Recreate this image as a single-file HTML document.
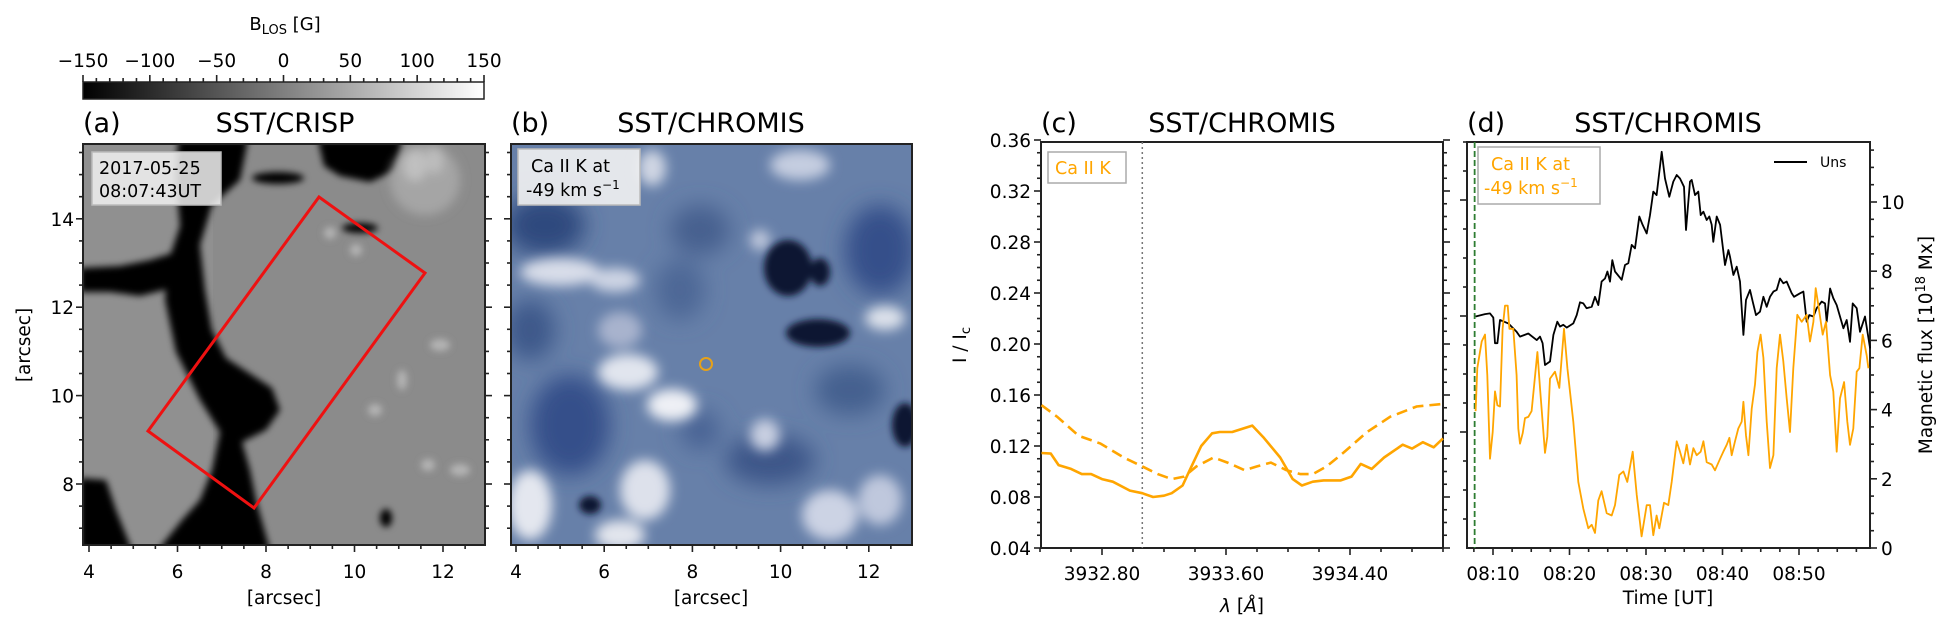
<!DOCTYPE html>
<html><head><meta charset="utf-8">
<style>
html,body{margin:0;padding:0;background:#fff;}
svg{display:block;font-family:"DejaVu Sans","Liberation Sans",sans-serif;}
</style></head>
<body>
<svg id="fig" xmlns="http://www.w3.org/2000/svg" width="1957" height="631" viewBox="0 0 1957 631">
<defs>
 <filter id="blurA" x="-20%" y="-20%" width="140%" height="140%"><feGaussianBlur stdDeviation="3.5"/></filter>
 <filter id="blurA2" x="-50%" y="-50%" width="200%" height="200%"><feGaussianBlur stdDeviation="5"/></filter>
 <filter id="blurB" x="-50%" y="-50%" width="200%" height="200%"><feGaussianBlur stdDeviation="11"/></filter>
 <filter id="blurB2" x="-50%" y="-50%" width="200%" height="200%"><feGaussianBlur stdDeviation="6"/></filter>
 <clipPath id="clipA"><rect x="83" y="144" width="402" height="401"/></clipPath>
 <clipPath id="clipB"><rect x="511" y="144" width="401" height="401"/></clipPath>
 <linearGradient id="cbGrad" x1="0" x2="1" y1="0" y2="0"><stop offset="0" stop-color="#000"/><stop offset="1" stop-color="#fff"/></linearGradient>
</defs>

<!-- colorbar -->
<g>
 <rect x="83" y="82" width="401" height="17" fill="url(#cbGrad)" stroke="#222" stroke-width="1.5"/>
 <text x="285" y="30" font-size="18" text-anchor="middle">B<tspan font-size="13" dy="4">LOS</tspan><tspan dy="-4"> [G]</tspan></text>
</g>

<!-- panel a image -->
<g clip-path="url(#clipA)">
 <rect x="83" y="144" width="402" height="401" fill="#8b8b8b"/>
 <rect x="83" y="144" width="130" height="401" fill="#909090"/>
 <g filter="url(#blurA)" fill="#060606">
  <polygon points="178,140 248,140 240,180 212,205 200,245 205,290 212,330 226,358 272,388 280,410 266,430 242,442 250,470 256,500 270,550 158,550 182,520 200,500 212,470 220,432 200,400 176,352 165,300 168,262 180,226 176,180"/>
  <polygon points="80,268 120,266 150,260 176,252 180,286 140,296 110,292 80,292"/>
  <polygon points="80,478 106,480 116,510 132,550 80,550"/>
  <polygon points="318,140 402,140 396,170 370,182 340,176 324,166"/>
  <ellipse cx="278" cy="178" rx="26" ry="6"/>
  <ellipse cx="386" cy="518" rx="6" ry="9"/>
  <ellipse cx="360" cy="228" rx="18" ry="5"/>
 </g>
 <g filter="url(#blurA2)">
  <ellipse cx="425" cy="180" rx="35" ry="35" fill="#a5a5a5"/>
  <ellipse cx="415" cy="165" rx="12" ry="16" fill="#c0c0c0"/>
  <ellipse cx="435" cy="160" rx="8" ry="14" fill="#bdbdbd"/>
 </g>
 <g filter="url(#blurA)" fill="#b4b4b4">
  <ellipse cx="330" cy="233" rx="6" ry="6"/>
  <ellipse cx="356" cy="250" rx="6" ry="6"/>
  <ellipse cx="440" cy="345" rx="10" ry="6"/>
  <ellipse cx="402" cy="380" rx="5" ry="10"/>
  <ellipse cx="375" cy="410" rx="7" ry="6"/>
  <ellipse cx="428" cy="465" rx="7" ry="6"/>
  <ellipse cx="460" cy="470" rx="10" ry="6"/>
 </g>
</g>
<rect x="83" y="144" width="402" height="401" fill="none" stroke="#222" stroke-width="2"/>
<polygon points="319,197 425,273 254,508 148,431" fill="none" stroke="#ee1111" stroke-width="3"/>
<g>
 <rect x="92" y="152" width="129" height="53" fill="#f2f2f2" fill-opacity="0.85" stroke="#bbb" stroke-width="1.5"/>
 <text x="99" y="174" font-size="17.5">2017-05-25</text>
 <text x="99" y="197" font-size="17.5">08:07:43UT</text>
</g>

<!-- panel b image -->
<g clip-path="url(#clipB)">
 <rect x="511" y="144" width="401" height="401" fill="#6780a9"/>
 <g filter="url(#blurB)">
  <ellipse cx="545" cy="225" rx="40" ry="30" fill="#2f4a7e"/>
  <ellipse cx="570" cy="425" rx="40" ry="50" fill="#35508a"/>
  <ellipse cx="880" cy="250" rx="35" ry="45" fill="#34508a"/>
  <ellipse cx="700" cy="230" rx="30" ry="25" fill="#46608f"/>
  <ellipse cx="770" cy="460" rx="45" ry="25" fill="#3c5789"/>
  <ellipse cx="680" cy="290" rx="25" ry="30" fill="#4d6796"/>
  <ellipse cx="850" cy="390" rx="35" ry="25" fill="#45608f"/>
  <ellipse cx="530" cy="330" rx="25" ry="30" fill="#3d588a"/>
  <ellipse cx="700" cy="430" rx="20" ry="20" fill="#4a6494"/>
 </g>
 <g filter="url(#blurB2)">
  <ellipse cx="560" cy="272" rx="40" ry="14" fill="#d8dde9"/>
  <ellipse cx="615" cy="280" rx="25" ry="12" fill="#cdd4e4"/>
  <ellipse cx="628" cy="372" rx="30" ry="18" fill="#e1e5ee"/>
  <ellipse cx="672" cy="405" rx="25" ry="16" fill="#eef0f5"/>
  <ellipse cx="530" cy="505" rx="22" ry="35" fill="#e4e7ef"/>
  <ellipse cx="645" cy="490" rx="25" ry="30" fill="#dde1eb"/>
  <ellipse cx="620" cy="535" rx="25" ry="15" fill="#e2e5ed"/>
  <ellipse cx="652" cy="168" rx="14" ry="18" fill="#cfd5e3"/>
  <ellipse cx="800" cy="165" rx="30" ry="15" fill="#c5cde0"/>
  <ellipse cx="885" cy="318" rx="20" ry="12" fill="#dde2eb"/>
  <ellipse cx="765" cy="435" rx="15" ry="16" fill="#c8cfe1"/>
  <ellipse cx="830" cy="515" rx="28" ry="25" fill="#ccd3e4"/>
  <ellipse cx="880" cy="500" rx="22" ry="25" fill="#bfc8dd"/>
  <ellipse cx="620" cy="330" rx="22" ry="18" fill="#a8b3cd"/>
  <ellipse cx="760" cy="240" rx="10" ry="10" fill="#c3cbde"/>
 </g>
 <g filter="url(#blurA)" fill="#0a1330">
  <ellipse cx="788" cy="268" rx="24" ry="28"/>
  <ellipse cx="818" cy="333" rx="32" ry="14"/>
  <ellipse cx="905" cy="425" rx="13" ry="22"/>
  <ellipse cx="590" cy="505" rx="11" ry="9"/>
  <ellipse cx="820" cy="272" rx="10" ry="14"/>
 </g>
</g>
<rect x="511" y="144" width="401" height="401" fill="none" stroke="#222" stroke-width="2"/>
<circle cx="706" cy="364" r="6" fill="none" stroke="#e6a11a" stroke-width="2"/>
<g>
 <rect x="518" y="149" width="122" height="56" fill="#f2f2f2" fill-opacity="0.9" stroke="#bbb" stroke-width="1.5"/>
 <text x="531" y="172" font-size="17.5">Ca II K at</text>
 <text x="526" y="196" font-size="17.5">-49 km s<tspan font-size="12" dy="-7">−1</tspan></text>
</g>

<!-- panel c -->
<rect x="1041" y="142" width="402" height="406" fill="none" stroke="#222" stroke-width="2"/>
<g>
 <rect x="1048" y="152" width="78" height="31" fill="#fff" stroke="#aaa" stroke-width="1.5"/>
 <text x="1055" y="174" font-size="17.5" fill="#ffa500">Ca II K</text>
</g>
<g id="cSeries"></g>

<!-- panel d -->
<rect x="1467" y="142" width="403" height="406" fill="none" stroke="#222" stroke-width="2"/>
<g id="dSeries"></g>
<g>
 <rect x="1478" y="147" width="122" height="57" fill="#fff" stroke="#aaa" stroke-width="1.5"/>
 <text x="1491" y="170" font-size="17.5" fill="#ffa500">Ca II K at</text>
 <text x="1484" y="194" font-size="17.5" fill="#ffa500">-49 km s<tspan font-size="12" dy="-7">−1</tspan></text>
</g>
<g>
 <line x1="1774" y1="162" x2="1807" y2="162" stroke="#000" stroke-width="2"/>
 <text x="1820" y="167" font-size="14">Uns</text>
</g>

<!-- titles -->
<text x="83" y="132" font-size="27">(a)</text>
<text x="285" y="132" font-size="27" text-anchor="middle">SST/CRISP</text>
<text x="511" y="132" font-size="27">(b)</text>
<text x="711" y="132" font-size="27" text-anchor="middle">SST/CHROMIS</text>
<text x="1041" y="132" font-size="27">(c)</text>
<text x="1242" y="132" font-size="27" text-anchor="middle">SST/CHROMIS</text>
<text x="1467" y="132" font-size="27">(d)</text>
<text x="1668" y="132" font-size="27" text-anchor="middle">SST/CHROMIS</text>

<!-- axis labels -->
<text x="284" y="604" font-size="18.5" text-anchor="middle">[arcsec]</text>
<text x="711" y="604" font-size="18.5" text-anchor="middle">[arcsec]</text>
<text transform="translate(30,345) rotate(-90)" font-size="18.5" text-anchor="middle">[arcsec]</text>
<text x="1242" y="612" font-size="18.5" text-anchor="middle"><tspan font-style="italic">λ</tspan> [<tspan font-style="italic">Å</tspan>]</text>
<text transform="translate(966,345) rotate(-90)" font-size="18.5" text-anchor="middle">I / I<tspan font-size="13" dy="4">c</tspan></text>
<text x="1668" y="604" font-size="18.5" text-anchor="middle">Time [UT]</text>
<text transform="translate(1932,345) rotate(-90)" font-size="18.5" text-anchor="middle">Magnetic flux [10<tspan font-size="13" dy="-7">18</tspan><tspan dy="7"> Mx]</tspan></text>

<g id="ticks"></g>
</svg>

<script>
// ---- panel (c) spectral profiles ----
const specWaveSolid = [3932.41,3932.47,3932.52,3932.60,3932.67,3932.73,3932.80,3932.87,3932.98,3933.06,3933.13,3933.20,3933.25,3933.32,3933.37,3933.44,3933.51,3933.56,3933.64,3933.77,3933.84,3933.95,3934.03,3934.09,3934.16,3934.23,3934.34,3934.41,3934.47,3934.54,3934.62,3934.74,3934.80,3934.87,3934.94,3935.00];
const specSolid = [0.1145,0.114,0.105,0.102,0.098,0.098,0.094,0.092,0.085,0.083,0.080,0.081,0.083,0.089,0.102,0.120,0.130,0.131,0.131,0.136,0.127,0.111,0.094,0.089,0.092,0.093,0.093,0.096,0.106,0.102,0.111,0.121,0.118,0.123,0.119,0.126];
const specWaveDashed = [3932.41,3932.51,3932.65,3932.79,3932.94,3933.06,3933.16,3933.25,3933.33,3933.41,3933.52,3933.61,3933.72,3933.80,3933.89,3933.99,3934.08,3934.16,3934.25,3934.36,3934.51,3934.66,3934.83,3935.00];
const specDashed = [0.152,0.143,0.128,0.122,0.111,0.104,0.098,0.094,0.096,0.104,0.111,0.107,0.101,0.104,0.107,0.101,0.098,0.098,0.104,0.115,0.131,0.143,0.151,0.153];
const specMarkWave = 3933.06;
const cYTicks = [0.04,0.08,0.12,0.16,0.20,0.24,0.28,0.32,0.36];
const cXTicks = [3932.80,3933.60,3934.40];

// ---- panel (d) time series (minutes after 08:00) ----
const timeUns = [7.73,8.95,9.61,10.04,10.26,10.57,10.92,12.00,13.09,13.53,14.62,15.71,16.14,16.49,16.80,17.45,17.89,18.41,18.76,19.19,19.63,20.50,20.94,21.37,21.81,22.24,22.90,23.33,23.77,24.20,24.64,24.95,25.29,25.60,25.95,26.82,27.26,27.69,28.13,28.56,29.13,29.56,30.09,30.52,30.96,31.39,32.05,32.48,33.05,33.57,34.01,34.45,34.97,35.23,35.75,35.97,36.41,36.84,37.15,37.50,37.93,38.28,38.59,38.80,39.24,39.68,40.33,40.77,40.98,41.42,41.85,42.29,42.73,43.07,43.60,43.95,44.38,44.90,45.34,45.78,46.21,46.65,47.08,47.52,47.95,48.39,49.04,49.35,50.13,50.57,51.00,51.35,51.88,52.31,52.97,53.40,53.62,54.06,54.49,54.93,55.80,56.23,56.67,57.02,57.54,57.98,58.63,59.29];
const fluxUns = [6.69,6.76,6.78,6.66,5.92,5.92,6.59,6.49,6.25,6.11,6.20,6.01,6.11,5.92,5.29,5.39,6.16,6.54,6.40,6.45,6.37,6.49,6.73,7.10,7.07,6.93,6.97,7.26,7.02,7.70,7.79,7.99,7.70,8.32,7.99,7.75,8.18,8.23,8.76,8.66,9.58,9.34,9.09,9.62,10.30,10.20,11.45,10.68,10.15,10.59,10.78,10.68,10.44,9.19,10.59,10.64,10.20,10.30,9.62,9.72,9.48,9.58,9.34,8.85,9.58,9.34,8.18,8.61,8.42,7.89,8.13,7.70,6.16,7.17,7.46,7.12,6.73,6.83,7.26,6.97,7.26,7.41,7.46,7.79,7.65,7.70,7.36,7.26,7.36,7.41,6.54,6.73,6.69,6.93,7.12,7.07,6.54,7.50,7.22,7.02,6.35,6.59,5.96,7.07,6.93,6.25,6.69,5.77];
const timeCa = [7.73,7.95,8.52,8.95,9.26,9.61,9.96,10.26,10.57,10.92,11.26,11.57,11.92,12.14,12.66,13.09,13.31,13.53,13.88,14.18,14.62,15.05,15.80,16.14,16.49,16.80,17.10,17.45,18.10,18.67,19.28,19.72,20.50,21.15,21.81,22.46,22.90,23.33,23.77,24.20,24.86,25.51,25.95,26.51,27.04,27.56,28.26,28.78,29.43,30.09,30.52,30.96,31.39,31.74,32.35,32.92,33.36,34.01,34.45,34.88,35.32,35.75,36.19,36.63,37.15,37.50,37.93,38.59,39.02,39.68,40.11,40.55,40.90,41.20,41.64,42.07,42.51,42.73,43.07,43.38,43.82,44.25,44.56,44.98,45.34,45.78,46.21,46.65,47.08,47.52,47.95,48.39,48.82,49.26,49.78,50.35,51.00,51.44,51.88,52.18,52.53,53.10,53.53,54.06,54.49,54.93,55.36,55.89,56.32,56.67,57.10,57.54,57.89,58.33,58.85,59.07];
const intensityCa = [1.18,1.55,1.78,1.84,1.49,0.77,1.00,1.35,1.23,1.22,1.89,2.09,2.09,1.89,1.89,1.49,1.03,0.90,0.99,1.12,1.13,1.18,1.69,1.38,1.09,0.82,0.96,1.46,1.52,1.38,1.89,1.55,1.09,0.57,0.34,0.17,0.20,0.13,0.41,0.49,0.30,0.28,0.37,0.63,0.66,0.57,0.83,0.46,0.10,0.37,0.37,0.11,0.28,0.17,0.39,0.37,0.57,0.92,0.83,0.73,0.89,0.72,0.86,0.80,0.83,0.92,0.74,0.72,0.67,0.77,0.83,0.89,0.95,0.80,0.92,1.03,1.09,1.26,0.97,0.80,1.20,1.41,1.69,1.84,1.64,1.09,0.69,0.80,1.55,1.84,1.61,1.29,1.00,1.55,2.01,1.95,2.01,1.78,1.95,2.24,2.09,1.84,1.95,1.49,1.35,0.83,1.29,1.43,1.09,0.89,1.03,1.52,1.55,1.84,1.66,1.55];
const markTime = 7.6;
const dTimeTicks = [10,20,30,40,50];
const dTimeLabels = ["08:10","08:20","08:30","08:40","08:50"];
const dFluxTicks = [0,2,4,6,8,10];
const cbTicks = [-150,-100,-50,0,50,100,150];
const arcXTicks = [4,6,8,10,12];
const arcYTicks = [8,10,12,14];

const NS = 'http://www.w3.org/2000/svg';
const fig = document.getElementById('fig');
const tickG = document.getElementById('ticks');
function mk(tag, attrs, parent) {
  const e = document.createElementNS(NS, tag);
  for (const k in attrs) e.setAttribute(k, attrs[k]);
  (parent || fig).appendChild(e);
  return e;
}
// scales
const cX = w => 1102 + (w - 3932.80) * 155;
const cY = v => 548 - (v - 0.04) * 1275;
const dX = t => 1493 + (t - 10) * 7.65;
const dYL = u => 548 - u * 116;
const dYR = f => 548 - f * 34.6;
const aX = a => 89 + (a - 4) * 44.25;
const bX = a => 516 + (a - 4) * 44.1;
const aY = a => 484 - (a - 8) * 44.2;
const cbX = v => 83 + (v + 150) / 300 * 401;

function tick(x1, y1, x2, y2, name) {
  const t = mk('line', {x1:x1, y1:y1, x2:x2, y2:y2, stroke:'#222', 'stroke-width':1.6}, tickG);
  
  
}
function label(x, y, s, anchor, name) {
  const t = mk('text', {x:x, y:y, 'font-size':18.5, 'text-anchor':anchor}, tickG);
  t.textContent = s;
  
  
}
const fmtMinus = v => (v < 0 ? '\u2212' + Math.abs(v) : String(v));

// colorbar ticks
for (let v = -150; v <= 150; v += 10) {
  const major = v % 50 === 0;
  tick(cbX(v), 82, cbX(v), 82 - (major ? 7 : 4), 'colorbar-tick');
}
cbTicks.forEach(v => label(cbX(v), 67, fmtMinus(v), 'middle', 'colorbar-tick-label'));

// panels a & b ticks
for (let a = 4; a <= 12.9; a += 0.5) {
  const major = a % 2 === 0;
  tick(aX(a), 545, aX(a), 545 + (major ? 7 : 4), 'panel-a-x-tick');
  tick(bX(a), 545, bX(a), 545 + (major ? 7 : 4), 'panel-b-x-tick');
}
arcXTicks.forEach(a => {
  label(aX(a), 578, String(a), 'middle', 'panel-a-x-tick-label');
  label(bX(a), 578, String(a), 'middle', 'panel-b-x-tick-label');
});
for (let a = 7; a <= 15.5; a += 0.5) {
  const major = a % 2 === 0;
  const L = major ? 7 : 4;
  tick(83, aY(a), 83 - L, aY(a), 'panel-a-y-tick');
  tick(485, aY(a), 485 + L, aY(a), 'panel-a-right-tick');
  tick(511, aY(a), 511 - L, aY(a), 'panel-b-y-tick');
}
arcYTicks.forEach(a => label(74, aY(a) + 7, String(a), 'end', 'panel-a-y-tick-label'));

// panel c ticks
for (let i = 0; i <= 32; i++) {
  const v = 0.04 + i * 0.01;
  const major = i % 4 === 0;
  const L = major ? 7 : 4;
  tick(1041, cY(v), 1041 - L, cY(v), 'panel-c-y-tick');
  tick(1443, cY(v), 1443 + L, cY(v), 'panel-c-right-tick');
}
cYTicks.forEach(v => label(1031, cY(v) + 7, v.toFixed(2), 'end', 'panel-c-y-tick-label'));
for (let w = 3932.40; w <= 3935.0; w += 0.2) {
  const major = cXTicks.some(m => Math.abs(m - w) < 0.01);
  tick(cX(w), 548, cX(w), 548 + (major ? 7 : 4), 'panel-c-x-tick');
}
cXTicks.forEach(w => label(cX(w), 580, w.toFixed(2), 'middle', 'panel-c-x-tick-label'));

// panel d ticks
for (let t = 7.5; t <= 59.3; t += 2.5) {
  const major = t % 10 === 0;
  tick(dX(t), 548, dX(t), 548 + (major ? 7 : 4), 'panel-d-x-tick');
}
dTimeTicks.forEach((t, i) => label(dX(t), 580, dTimeLabels[i], 'middle', 'panel-d-x-tick-label'));
for (let u = 0.25; u <= 3.5; u += 0.25) {
  const major = u % 1 === 0;
  tick(1467, dYL(u), 1467 - (major ? 7 : 4), dYL(u), 'panel-d-left-tick');
}
for (let f = 0; f <= 11.5; f += 0.5) {
  const major = f % 2 === 0;
  tick(1870, dYR(f), 1870 + (major ? 7 : 4), dYR(f), 'panel-d-right-tick');
}
dFluxTicks.forEach(f => label(1881, dYR(f) + 7, String(f), 'start', 'panel-d-right-tick-label'));

// series
function pathFrom(xs, ys, fx, fy) {
  return xs.map((x, i) => (i ? 'L' : 'M') + fx(x).toFixed(1) + ',' + fy(ys[i]).toFixed(1)).join('');
}
const cG = document.getElementById('cSeries');
const markC = mk('line', {x1:cX(specMarkWave), y1:142, x2:cX(specMarkWave), y2:548, stroke:'#777', 'stroke-width':1.5, 'stroke-dasharray':'2,3'}, cG);


const dashedLine = mk('path', {d:pathFrom(specWaveDashed, specDashed, cX, cY), fill:'none', stroke:'#ffa500', 'stroke-width':2.6, 'stroke-dasharray':'11,6'}, cG);


const solidLine = mk('path', {d:pathFrom(specWaveSolid, specSolid, cX, cY), fill:'none', stroke:'#ffa500', 'stroke-width':2.6, 'stroke-linejoin':'round'}, cG);



const dG = document.getElementById('dSeries');
const markD = mk('line', {x1:dX(markTime), y1:142, x2:dX(markTime), y2:548, stroke:'#2e7d32', 'stroke-width':1.8, 'stroke-dasharray':'6,3'}, dG);


const unsLine = mk('path', {d:pathFrom(timeUns, fluxUns, dX, dYR), fill:'none', stroke:'#000', 'stroke-width':1.8, 'stroke-linejoin':'round'}, dG);


const caLine = mk('path', {d:pathFrom(timeCa, intensityCa, dX, dYL), fill:'none', stroke:'#ffa500', 'stroke-width':1.8, 'stroke-linejoin':'round'}, dG);


</script>
</body></html>
